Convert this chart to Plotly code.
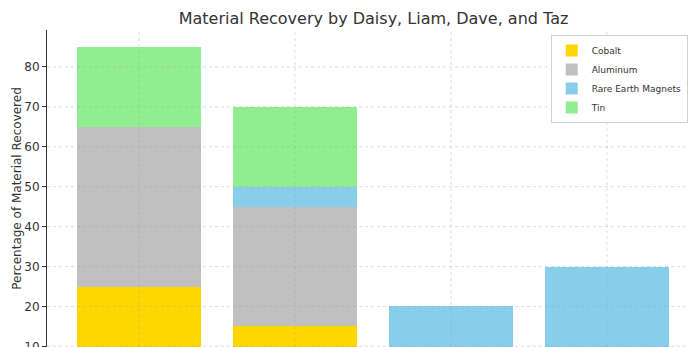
import plotly.graph_objects as go

# Recovery data per person (percent of material recovered)
people = ["Daisy", "Liam", "Dave", "Taz"]
cobalt = [25, 15, 0, 0]
aluminum = [40, 30, 0, 0]
rare_earth = [0, 5, 20, 30]
tin = [20, 20, 0, 0]
y_ticks = [10, 20, 30, 40, 50, 60, 70, 80]

series = [
    ("Cobalt", cobalt, "#FFD700"),
    ("Aluminum", aluminum, "#C0C0C0"),
    ("Rare Earth Magnets", rare_earth, "#87CEEB"),
    ("Tin", tin, "#90EE90"),
]

fig = go.Figure()
for name, vals, color in series:
    fig.add_trace(go.Bar(
        x=list(range(len(people))), y=vals, name=name,
        marker=dict(color=color, line=dict(width=0)),
        width=0.8,
    ))

# Light dotted grid drawn over the bars
grid = dict(color="rgba(160,160,160,0.45)", width=0.8, dash="dot")
for t in y_ticks:
    fig.add_shape(type="line", xref="paper", yref="y", x0=0, x1=1, y0=t, y1=t,
                  line=grid, layer="above")
for i in range(len(people)):
    fig.add_shape(type="line", xref="x", yref="paper", x0=i, x1=i, y0=0, y1=1,
                  line=grid, layer="above")

fig.update_layout(
    width=689, height=347,
    margin=dict(l=47, r=0, t=30, b=0, autoexpand=False),
    barmode="stack",
    plot_bgcolor="white", paper_bgcolor="white",
    font=dict(family="DejaVu Sans", color="#333333"),
    title=dict(text="Material Recovery by Daisy, Liam, Dave, and Taz",
               x=0.5086, xref="paper", xanchor="center",
               y=1 - 18 / 347, yref="container", yanchor="middle",
               font=dict(size=16, color="#333333")),
    showlegend=True,
    legend=dict(x=0.998, y=0.984, xanchor="right", yanchor="top",
                traceorder="normal", bgcolor="white",
                bordercolor="#d0d0d0", borderwidth=1,
                font=dict(size=9, color="#333333"),
                tracegroupgap=0, itemwidth=30),
    xaxis=dict(range=[-0.59, 3.526], showticklabels=False, ticks="",
               showgrid=False, zeroline=False, showline=False),
    yaxis=dict(range=[9.85, 89.25], tickvals=y_ticks, ticks="outside",
               ticklen=4, tickcolor="#333333", showgrid=False, zeroline=False,
               showline=True, linecolor="#333333", linewidth=1,
               ticklabeloverflow="allow",
               tickfont=dict(size=12, color="#333333"),
               title=dict(text="Percentage of Material Recovered",
                          font=dict(size=12, color="#333333"), standoff=0)),
)

fig.write_html("out.html")
